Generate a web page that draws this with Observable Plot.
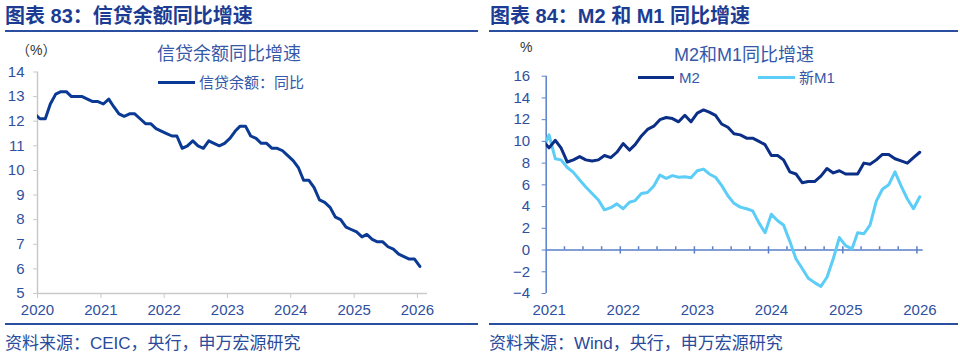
<!DOCTYPE html>
<html><head><meta charset="utf-8">
<script src="https://cdn.jsdelivr.net/npm/d3@7"></script>
<script src="https://cdn.jsdelivr.net/npm/@observablehq/plot@0.6"></script>
<style>
body{margin:0;width:960px;height:354px;position:relative;overflow:hidden;background:#fff;font-family:"Liberation Sans","Noto Sans CJK SC",sans-serif;}
.abs{position:absolute;white-space:nowrap;line-height:1;}
.title{font-weight:bold;font-size:20px;color:#1b3c92;}
.rule{position:absolute;height:2px;background:#2b4fa0;}
.src{font-size:17px;color:#2a4b9b;}
.inner{font-size:18px;color:#3558a8;}
.leg{font-size:15px;color:#3558a8;}
.unit{font-size:14px;color:#333;}
.sw{position:absolute;height:3px;}
</style></head>
<body>
<div class="abs title" style="left:5px;top:6px">图表 83：信贷余额同比增速</div>
<div class="rule" style="left:5px;top:30px;width:473px"></div>
<div id="c1" style="position:absolute;left:0;top:36px"></div>
<div class="abs unit" style="left:16px;top:43px">（%）</div>
<div class="abs inner" style="left:157px;top:45px">信贷余额同比增速</div>
<div class="sw" style="left:158px;top:81px;width:37px;background:#0a3a94"></div>
<div class="abs leg" style="left:199px;top:75px">信贷余额：同比</div>
<div class="rule" style="left:5px;top:323px;width:473px"></div>
<div class="abs src" style="left:5px;top:335px">资料来源：CEIC，央行，申万宏源研究</div>

<div class="abs title" style="left:490px;top:6px">图表 84：M2 和 M1 同比增速</div>
<div class="rule" style="left:489px;top:30px;width:469px"></div>
<div id="c2" style="position:absolute;left:480px;top:36px"></div>
<div class="abs unit" style="left:520px;top:40px">%</div>
<div class="abs inner" style="left:674px;top:46px">M2和M1同比增速</div>
<div class="sw" style="left:638px;top:76px;width:36px;background:#0b2e86"></div>
<div class="abs leg" style="left:679px;top:70px">M2</div>
<div class="sw" style="left:758px;top:76px;width:37px;background:#5ccdf7"></div>
<div class="abs leg" style="left:799px;top:70px">新M1</div>
<div class="rule" style="left:489px;top:323px;width:469px"></div>
<div class="abs src" style="left:489px;top:335px">资料来源：Wind，央行，申万宏源研究</div>

<script>
// ---- Data: loan balance YoY (%), monthly from 2019-12 to 2026-01
const loanStart = "2019-12";
const loanYoY = [12.3,
  12.1,12.1,12.7,13.1,13.2,13.2,13.0,13.0,13.0,12.9,12.8,12.8,
  12.7,12.9,12.6,12.3,12.2,12.3,12.3,12.1,11.9,11.9,11.7,11.6,
  11.5,11.4,11.4,10.9,11.0,11.2,11.0,10.9,11.2,11.1,11.0,11.1,
  11.3,11.6,11.8,11.8,11.4,11.3,11.1,11.1,10.9,10.9,10.8,10.6,
  10.4,10.1,9.6,9.6,9.3,8.8,8.7,8.5,8.1,8.0,7.7,7.6,
  7.5,7.3,7.4,7.2,7.1,7.1,6.9,6.8,6.6,6.5,6.4,6.4,
  6.1];
// ---- Data: M2 and new M1 YoY (%), monthly from 2020-12 to 2026-01
const moneyStart = "2020-12";
const m2YoY = [10.1,
  9.4,10.1,9.4,8.1,8.3,8.6,8.3,8.2,8.3,8.7,8.5,9.0,
  9.8,9.2,9.7,10.5,11.1,11.4,12.0,12.2,12.1,11.8,12.4,11.8,
  12.6,12.9,12.7,12.4,11.6,11.3,10.7,10.6,10.3,10.3,10.0,9.7,
  8.7,8.7,8.3,7.2,7.0,6.2,6.3,6.3,6.8,7.5,7.1,7.3,
  7.0,7.0,7.0,8.0,7.9,8.3,8.8,8.8,8.4,8.2,8.0,8.5,
  9.0];
const newM1YoY = [9.2,
  10.6,8.4,8.3,7.6,7.15,6.45,5.8,5.2,4.6,3.7,3.9,4.25,
  3.8,4.4,4.55,5.2,5.3,5.9,6.9,6.6,6.85,6.7,6.75,6.65,
  7.3,7.45,7.0,6.7,5.95,5.0,4.3,3.95,3.8,3.6,2.5,1.6,
  3.3,2.7,2.3,0.8,-0.8,-1.7,-2.6,-3.0,-3.35,-2.5,-0.8,1.15,
  0.4,0.1,1.6,1.5,2.3,4.5,5.6,6.0,7.2,5.9,4.7,3.8,
  4.9];
// ---- Tick labels
const loanYears = [2020,2021,2022,2023,2024,2025,2026];
const loanYTicks = [5,6,7,8,9,10,11,12,13,14];
const moneyYears = [2021,2022,2023,2024,2025,2026];
const moneyYTicks = [-4,-2,0,2,4,6,8,10,12,14,16];

// helpers: month index -> mid-month UTC date
function midMonth(start, i){
  const [y,m] = start.split("-").map(Number);
  return new Date(Date.UTC(y, m-1+i, 15));
}
const yearDate = y => new Date(Date.UTC(y,0,1));

const loanData = loanYoY.map((v,i)=>({date: midMonth(loanStart,i), value: v}));
const m2Data = m2YoY.map((v,i)=>({date: midMonth(moneyStart,i), value: v}));
const m1Data = newM1YoY.map((v,i)=>({date: midMonth(moneyStart,i), value: v}));

const blueText = "#2f50a0";
const fontStyle = {fontSize:"15px", fontFamily:"'Liberation Sans','Noto Sans CJK SC',sans-serif", background:"transparent", overflow:"visible"};

// ---- Chart 1
const gray = "#c9c9c9";
const c1 = Plot.plot({
  width: 480, height: 290,
  marginLeft: 37, marginRight: 53, marginTop: 35.5, marginBottom: 33,
  style: fontStyle,
  x: {type:"utc", domain:[yearDate(2020), new Date(Date.UTC(2026,1,28))]},
  y: {domain:[5,14]},
  marks: [
    Plot.ruleX([yearDate(2020)], {stroke: gray, strokeWidth: 1.5}),
    Plot.ruleY([5], {stroke: gray, strokeWidth: 1.5}),
    Plot.axisY({ticks: loanYTicks, tickSize: 4, tickFormat: () => "", color: gray, label: null}),
    Plot.axisY({ticks: loanYTicks, tickSize: 0, tickPadding: 13, color: blueText, label: null}),
    Plot.axisX({ticks: loanYears.map(yearDate), tickSize: 5, tickFormat: () => "", color: gray, label: null}),
    Plot.axisX({ticks: loanYears.map(yearDate), tickSize: 0, tickPadding: 11, tickFormat: "%Y", color: blueText, label: null}),
    Plot.lineY(loanData, {x:"date", y:"value", stroke:"#0a3a94", strokeWidth: 3, clip: true})
  ]
});
document.getElementById("c1").appendChild(c1);

// ---- Chart 2
const axisBlue = "#5b7fc8";
const quarters = [];
for (const y of [2021,2022,2023,2024,2025]) for (const m of [3,6,9]) quarters.push(new Date(Date.UTC(y,m,1)));
const c2 = Plot.plot({
  width: 480, height: 290,
  marginLeft: 65.7, marginRight: 37.3, marginTop: 39.7, marginBottom: 33,
  style: fontStyle,
  x: {type:"utc", domain:[yearDate(2021), new Date(Date.UTC(2026,1,1))]},
  y: {domain:[-4,16]},
  marks: [
    Plot.ruleX([yearDate(2021)], {stroke: axisBlue, strokeWidth: 1.5}),
    Plot.ruleY([0], {stroke: axisBlue, strokeWidth: 1.5}),
    Plot.ruleX(quarters, {x: d=>d, y1: 0, y2: 0.3, stroke: axisBlue, strokeWidth: 1.5}),
    Plot.ruleX(moneyYears.slice(1).map(yearDate), {x: d=>d, y1: -0.37, y2: 0.3, stroke: axisBlue, strokeWidth: 1.5}),
    Plot.axisY({ticks: moneyYTicks, tickSize: 4, tickFormat: () => "", color: axisBlue, label: null}),
    Plot.axisY({ticks: moneyYTicks, tickSize: 0, tickPadding: 16, color: blueText, label: null}),
    Plot.axisX({ticks: moneyYears.map(yearDate), tickSize: 0, tickPadding: 11, tickFormat: "%Y", dx: 3, color: blueText, label: null}),
    Plot.lineY(m1Data, {x:"date", y:"value", stroke:"#5ccdf7", strokeWidth: 3, clip: true}),
    Plot.lineY(m2Data, {x:"date", y:"value", stroke:"#0b2e86", strokeWidth: 3, clip: true})
  ]
});
document.getElementById("c2").appendChild(c2);
</script>
</body></html>
